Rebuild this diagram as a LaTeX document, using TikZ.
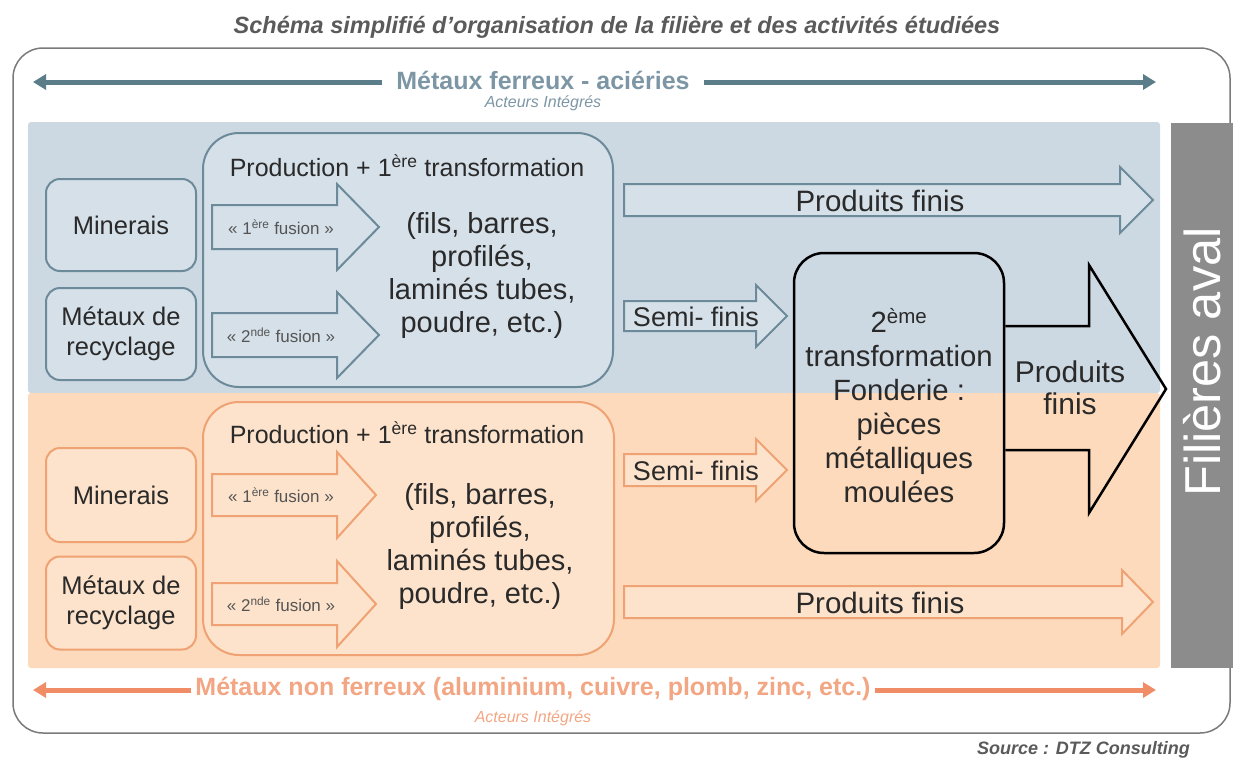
\documentclass[tikz,border=0pt]{standalone}
\usepackage{fontspec}
\setmainfont{Liberation Sans}
\usetikzlibrary{arrows.meta}
\definecolor{bandB}{HTML}{CCD8E2}
\definecolor{fillB}{HTML}{D5E0E9}
\definecolor{lineB}{HTML}{6C8A99}
\definecolor{bandO}{HTML}{FCDABB}
\definecolor{fillO}{HTML}{FDE3CB}
\definecolor{lineO}{HTML}{EFA273}
\definecolor{barG}{HTML}{8C8C8C}
\definecolor{arrB}{HTML}{5B7D8A}
\definecolor{txtB}{HTML}{7D96A5}
\definecolor{arrO}{HTML}{F08D66}
\definecolor{txtO}{HTML}{F2A683}
\definecolor{ttl}{HTML}{5A5A5A}
\definecolor{ink}{HTML}{2A2A2A}
\definecolor{frame}{HTML}{7A7A7A}
\newcommand\fsz[2]{\fontsize{#1}{#2}\selectfont}
% block arrow: style, x1, xh, xt, yc, half body, half head
\newcommand\blockarr[7]{%
  \draw[#1] (#2,#5-#6) -- (#3,#5-#6) -- (#3,#5-#7) -- (#4,#5) -- (#3,#5+#7) -- (#3,#5+#6) -- (#2,#5+#6) -- cycle;}
\begin{document}
\begin{tikzpicture}[x=1pt,y=-1pt,
  txt/.style={text=ink, align=center, inner sep=0pt},
  bbox/.style={draw=lineB, fill=fillB, line width=2pt, rounded corners=14pt, txt},
  obox/.style={draw=lineO, fill=fillO, line width=2pt, rounded corners=14pt, txt},
  barrB/.style={draw=lineB, fill=fillB, line width=2pt, line join=miter},
  barrO/.style={draw=lineO, fill=fillO, line width=2pt, line join=miter},
  fuslbl/.style={txt, font=\fsz{17}{20}, text=ink!80},
  longlist/.style={txt, font=\fsz{29}{33}},
  headlbl/.style={txt, font=\fsz{25}{30}},
  sidetitle/.style={inner xsep=14pt, inner ysep=0pt, font=\bfseries\fsz{25}{29}},
  acteurs/.style={inner sep=0pt, font=\itshape\fsz{16}{18}},
  tiparr/.style={-{Triangle[length=13pt,width=15pt]}, line width=5pt},
  sidebox/.style={minimum width=150pt, minimum height=92pt, font=\fsz{25.5}{30}},
]
\useasboundingbox (0,0) rectangle (1234,763);

% title
\node[inner sep=0pt, text=ttl, font=\bfseries\itshape\fsz{23.5}{27}] (title) at (617,27)
  {Schéma simplifié d'organisation de la filière et des activités étudiées};

% outer frame
\draw[draw=frame, line width=1.5pt, rounded corners=30pt] (13,48) rectangle (1230,733);

% bands
\fill[bandB, rounded corners=3pt] (28,122) rectangle (1160,393);
\fill[bandO, rounded corners=3pt] (28,393) rectangle (1160,668);
\fill[barG] (1171,123) rectangle (1233,668);
\node[rotate=90, text=white, inner sep=0pt, font=\fsz{50.5}{56}] (aval) at (1202,362) {Filières aval};

% top arrow
\node[sidetitle, text=txtB] (ferreux) at (543,80) {Métaux ferreux - aciéries};
\node[acteurs, text=txtB] (actB) at (543,103) {Acteurs Intégrés};
\coordinate (tl) at (33,82);
\coordinate (tr) at (1156,82);
\draw[tiparr, draw=arrB, fill=arrB] (ferreux.west |- tl) -- (tl);
\draw[tiparr, draw=arrB, fill=arrB] (ferreux.east |- tr) -- (tr);

% bottom arrow
\node[sidetitle, inner xsep=4pt, text=txtO] (nonferreux) at (533,689) {Métaux non ferreux (aluminium, cuivre, plomb, zinc, etc.)};
\node[acteurs, text=txtO] (actO) at (533,718) {Acteurs Intégrés};
\coordinate (bl) at (33,690);
\coordinate (br) at (1156,690);
\draw[tiparr, draw=arrO, fill=arrO] (nonferreux.west |- bl) -- (bl);
\draw[tiparr, draw=arrO, fill=arrO] (nonferreux.east |- br) -- (br);

% ---------- blue part ----------
\node[bbox, sidebox] (bmin) at (121,225) {Minerais};
\node[bbox, sidebox] (brec) at (121,334) {Métaux de\\recyclage};
\node[bbox, rounded corners=36pt, minimum width=410pt, minimum height=254pt] (bprod) at (408,260) {};
\node[headlbl] (bhead) at (407,166) {Production + 1\textsuperscript{ère} transformation};
\blockarr{barrB}{212}{337}{379}{227}{22}{43}
\node[fuslbl] (bf1) at (281,227) {« 1\textsuperscript{ère} fusion »};
\blockarr{barrB}{212}{337}{379}{335}{22}{43}
\node[fuslbl] (bf2) at (281,335) {« 2\textsuperscript{nde} fusion »};
\node[longlist] (blist) at (482,275) {(fils, barres,\\profilés,\\laminés tubes,\\poudre, etc.)};
\blockarr{barrB}{624}{1120}{1153}{200}{16}{33}
\node[txt, font=\fsz{29.5}{34}] (bpf) at (880,201) {Produits finis};
\blockarr{barrB}{624}{756}{787}{316}{15}{31}
\node[txt, font=\fsz{27}{32}] (bsf) at (696,317) {Semi- finis};

% ---------- orange part ----------
\node[obox, sidebox, minimum height=94pt] (omin) at (121,495) {Minerais};
\node[obox, sidebox, minimum height=93pt] (orec) at (121,603) {Métaux de\\recyclage};
\node[obox, rounded corners=36pt, minimum width=411pt, minimum height=253pt] (oprod) at (408.5,528.5) {};
\node[headlbl] (ohead) at (407,433) {Production + 1\textsuperscript{ère} transformation};
\blockarr{barrO}{212}{337}{376}{495}{21}{43}
\node[fuslbl] (of1) at (281,495) {« 1\textsuperscript{ère} fusion »};
\blockarr{barrO}{212}{337}{376}{604}{21}{43}
\node[fuslbl] (of2) at (281,604) {« 2\textsuperscript{nde} fusion »};
\node[longlist] (olist) at (480,546) {(fils, barres,\\profilés,\\laminés tubes,\\poudre, etc.)};
\blockarr{barrO}{624}{1122}{1153}{602}{16}{32}
\node[txt, font=\fsz{29.5}{34}] (opf) at (880,603) {Produits finis};
\blockarr{barrO}{624}{756}{787}{470}{16}{31}
\node[txt, font=\fsz{27}{32}] (osf) at (696,471) {Semi- finis};

% ---------- centre ----------
\node[draw=black, line width=2.5pt, rounded corners=30pt, minimum width=210pt, minimum height=300pt] (fond) at (899,403) {};
\node[txt, font=\fsz{29.3}{34}] (fondtxt) at (899,406)
  {2\textsuperscript{ème}\\transformation\\Fonderie :\\pièces\\métalliques\\moulées};
\draw[line width=2.5pt, line join=miter] (fond.east |- 0,326) -- (1089,326) -- (1089,265) -- (1166,389) -- (1089,513) -- (1089,450) -- (fond.east |- 0,450);
\node[txt, font=\fsz{30}{32}] (bigpf) at (1070,388) {Produits\\finis};

% source
\node[anchor=east, inner sep=0pt, text=ttl, font=\bfseries\itshape\fsz{18}{21}] (source) at (1190,750) {Source : DTZ Consulting};
\end{tikzpicture}
\end{document}
